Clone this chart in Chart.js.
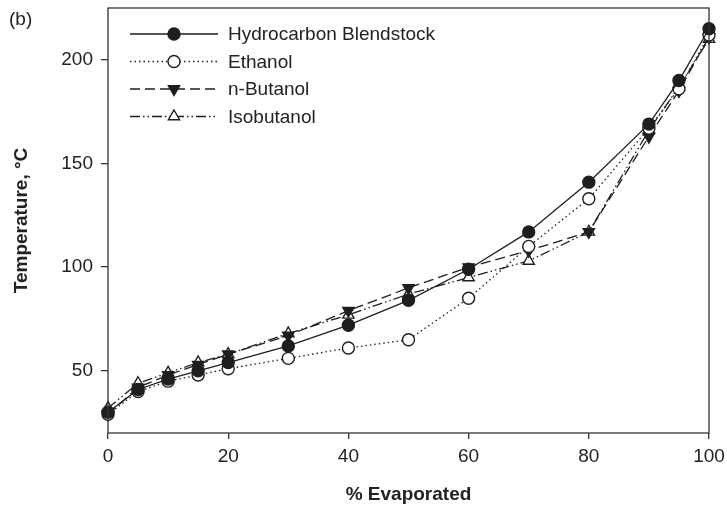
<!DOCTYPE html>
<html>
<head>
<meta charset="utf-8">
<script src="https://cdn.jsdelivr.net/npm/chart.js@4/dist/chart.umd.min.js"></script>
<style>
  body { margin: 0; background: #fff; }
  .wrap { position: relative; width: 727px; height: 511px; }
  .tag { position: absolute; left: 9px; top: 8px; font: 19px "Liberation Sans", Arial, sans-serif; color: #222; }
</style>
</head>
<body>
<div class="wrap">
  <canvas id="chart" width="727" height="511"></canvas>
  <div class="tag">(b)</div>
</div>
<script>
var evaporated = [0, 5, 10, 15, 20, 30, 40, 50, 60, 70, 80, 90, 95, 100];
var hydrocarbon = [30, 41, 46, 50, 54, 62, 72, 84, 99, 117, 141, 169, 190, 215];
var ethanol = [29, 40, 45, 48, 51, 56, 61, 65, 85, 110, 133, 167, 186, 212];
var nButanol = [29, 42, 48, 53, 58, 67, 79, 90, 100, 108, 117, 163, 185, 211];
var isobutanol = [32, 44, 49, 54, 58, 68, 77, 87, 95, 103, 117, 166, 187, 210];
var seriesNames = ['Hydrocarbon Blendstock', 'Ethanol', 'n-Butanol', 'Isobutanol'];
var xTicks = [0, 20, 40, 60, 80, 100];
var yTicks = [50, 100, 150, 200];

var ink = '#1e1e1e';
var font = '"Liberation Sans", Arial, sans-serif';

function pts(vals) {
  return vals.map(function(v, i) { return { x: evaporated[i], y: v }; });
}

var styles = [
  { dash: [], pointStyle: 'circle', fill: ink, rot: 0, r: 6 },
  { dash: [1.5, 3], pointStyle: 'circle', fill: '#fff', rot: 0, r: 6 },
  { dash: [10, 5], pointStyle: 'triangle', fill: ink, rot: 180, r: 6.5 },
  { dash: [10, 3, 1.5, 3, 1.5, 3], pointStyle: 'triangle', fill: '#fff', rot: 0, r: 6.5 }
];
var allSeries = [hydrocarbon, ethanol, nButanol, isobutanol];

var datasets = allSeries.map(function(s, i) {
  var st = styles[i];
  return {
    label: seriesNames[i],
    data: pts(s),
    borderColor: ink,
    borderWidth: 1.3,
    borderDash: st.dash,
    pointStyle: st.pointStyle,
    pointRotation: st.rot,
    pointRadius: st.r,
    pointHoverRadius: st.r,
    pointBackgroundColor: st.fill,
    pointBorderColor: ink,
    pointBorderWidth: 1.4,
    tension: 0,
    clip: false
  };
});

// box around the plot and the in-plot legend
var frame = {
  id: 'frame',
  afterDraw: function(chart) {
    var ctx = chart.ctx, a = chart.chartArea;
    ctx.save();
    ctx.strokeStyle = '#333';
    ctx.lineWidth = 1.3;
    ctx.strokeRect(a.left, a.top, a.right - a.left, a.bottom - a.top);

    var x0 = a.left + 22, x1 = a.left + 110, mid = (x0 + x1) / 2;
    chart.data.datasets.forEach(function(ds, i) {
      var y = a.top + 26 + i * 27.5;
      ctx.strokeStyle = ink;
      ctx.lineWidth = ds.borderWidth;
      ctx.setLineDash(ds.borderDash);
      ctx.beginPath();
      ctx.moveTo(x0, y);
      ctx.lineTo(x1, y);
      ctx.stroke();
      ctx.setLineDash([]);
      ctx.fillStyle = ds.pointBackgroundColor;
      ctx.lineWidth = ds.pointBorderWidth;
      Chart.helpers.drawPoint(ctx, {
        pointStyle: ds.pointStyle,
        rotation: ds.pointRotation,
        radius: ds.pointRadius,
        borderWidth: ds.pointBorderWidth
      }, mid, y);
      ctx.fillStyle = '#222';
      ctx.font = '19px ' + font;
      ctx.textBaseline = 'middle';
      ctx.fillText(ds.label, x1 + 10, y + 1);
    });
    ctx.restore();
  }
};

new Chart(document.getElementById('chart'), {
  type: 'line',
  data: { datasets: datasets },
  plugins: [frame],
  options: {
    responsive: false,
    animation: false,
    layout: { padding: { top: 8, right: 18, left: 0, bottom: 0 } },
    plugins: { legend: { display: false }, tooltip: { enabled: false } },
    scales: {
      x: {
        type: 'linear',
        min: 0,
        max: 100,
        afterBuildTicks: function(s) { s.ticks = xTicks.map(function(v) { return { value: v }; }); },
        afterFit: function(s) { s.height = 78; s.paddingLeft = 0; s.paddingRight = 0; },
        grid: { drawOnChartArea: false, drawTicks: true, tickLength: 6, color: '#333', lineWidth: 1.3 },
        border: { display: false },
        ticks: { color: '#222', font: { family: font, size: 19 }, padding: 6, maxRotation: 0 },
        title: { display: true, text: '% Evaporated', color: '#222', font: { family: font, size: 19, weight: 'bold' }, padding: { top: 0, bottom: 5 } }
      },
      y: {
        min: 20,
        max: 225,
        afterBuildTicks: function(s) { s.ticks = yTicks.map(function(v) { return { value: v }; }); },
        afterFit: function(s) { s.width = 108; s.paddingTop = 0; s.paddingBottom = 0; },
        grid: { drawOnChartArea: false, drawTicks: true, tickLength: 7, color: '#333', lineWidth: 1.3 },
        border: { display: false },
        ticks: { color: '#222', font: { family: font, size: 19 }, padding: 8 },
        title: { display: true, text: 'Temperature, °C', color: '#222', font: { family: font, size: 19, weight: 'bold' }, padding: { top: 10, bottom: 0 } }
      }
    }
  }
});
</script>
</body>
</html>
